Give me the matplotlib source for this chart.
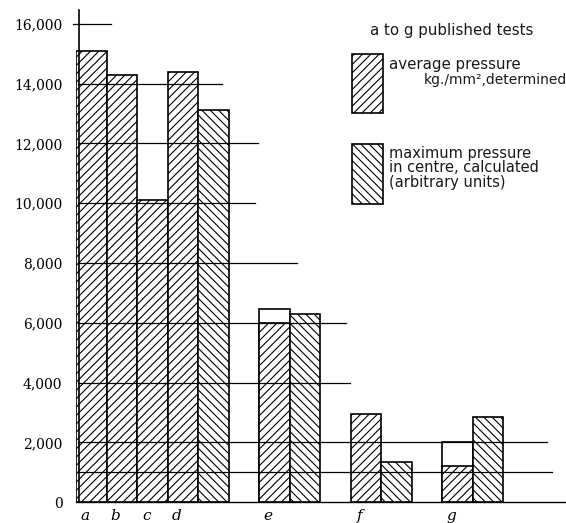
import matplotlib
matplotlib.use("Agg")
import matplotlib.pyplot as plt
from matplotlib.patches import Rectangle

# data
tests = ['a', 'b', 'c', 'd', 'e', 'f', 'g']
avg_pressure = [15100, 14280, 10100, 14400, 6000, 2950, 1200]
avg_open_top = [None, None, None, None, 6450, None, 2000]   # un-hatched upper part
max_pressure = [None, None, None, 13100, 6300, 1350, 2850]
yticks = [0, 2000, 4000, 6000, 8000, 10000, 12000, 14000, 16000]
ytick_labels = ['0', '2,000', '4,000', '6,000', '8,000', '10,000', '12,000', '14,000', '16,000']
guide_vals = [16000, 14000, 12000, 10000, 8000, 6000, 4000, 2000, 1000]
guide_ends = [1.15, 4.79, 5.97, 5.87, 7.25, 8.85, 8.98, 15.44, 15.61]

plt.rcParams['hatch.linewidth'] = 0.8
fig = plt.figure(figsize=(5.66, 5.23), dpi=100)
ax = fig.add_axes([76 / 566, 20.7 / 523, 490 / 566, 492.3 / 523])

x_avg = [0, 1, 2, 3, 6, 9, 12]
for i, t in enumerate(tests):
    x = x_avg[i]
    if avg_open_top[i] is not None:
        ax.bar(x, avg_open_top[i], width=1, align='edge', facecolor='white',
               edgecolor='black', linewidth=1.2, zorder=2)
    ax.bar(x, avg_pressure[i], width=1, align='edge', facecolor='white',
           edgecolor='black', hatch='////', linewidth=1.2, zorder=2)
    if max_pressure[i] is not None:
        ax.bar(x + 1, max_pressure[i], width=1, align='edge', facecolor='white',
               edgecolor='black', hatch='\\\\\\\\', linewidth=1.2, zorder=2)

# partial guide lines drawn across the bars
for v, e in zip(guide_vals, guide_ends):
    ax.plot([0.05, e], [v, v], color='black', linewidth=0.9, zorder=3, clip_on=False)
ax.plot([-0.1, 0.1], [16000, 16000], color='black', linewidth=0.9, clip_on=False)

ax.set_xlim(0, 490 / 30.5)
ax.set_ylim(0, 16460)
ax.spines['top'].set_visible(False)
ax.spines['right'].set_visible(False)
ax.spines['left'].set_position(('data', 0.1))
ax.spines['left'].set_linewidth(1.2)
ax.spines['bottom'].set_linewidth(1.0)

ax.set_yticks(yticks)
ax.set_yticklabels(ytick_labels, fontfamily='DejaVu Serif', fontsize=10)
ax.tick_params(axis='y', length=0, pad=12)
ax.set_xticks([x + 0.3 for x in x_avg])
ax.set_xticklabels(tests, fontfamily='DejaVu Serif', fontstyle='italic', fontsize=11)
ax.tick_params(axis='x', length=0, pad=5)

# legend, drawn by hand like the original
ink = '#1a1a1a'
fig.text(452 / 566, 1 - 31 / 523, 'a to g published tests', ha='center', va='center',
         fontsize=10.8, color=ink)
fig.add_artist(Rectangle((352 / 566, 1 - 113 / 523), 31 / 566, 59 / 523,
                         transform=fig.transFigure, facecolor='white', edgecolor='black',
                         hatch='////', linewidth=1.2))
fig.add_artist(Rectangle((352 / 566, 1 - 204 / 523), 31 / 566, 60 / 523,
                         transform=fig.transFigure, facecolor='white', edgecolor='black',
                         hatch='\\\\\\\\', linewidth=1.2))
fig.text(389 / 566, 1 - 65 / 523, 'average pressure', va='center', fontsize=10.8, color=ink)
fig.text(424 / 566, 1 - 80 / 523, 'kg./mm\u00b2,determined', va='center', fontsize=10, color=ink)
fig.text(389 / 566, 1 - 153 / 523, 'maximum pressure', va='center', fontsize=10.5, color=ink)
fig.text(389 / 566, 1 - 167 / 523, 'in centre, calculated', va='center', fontsize=10.5, color=ink)
fig.text(389 / 566, 1 - 182 / 523, '(arbitrary units)', va='center', fontsize=10.5, color=ink)

fig.savefig('out.png', dpi=100)
